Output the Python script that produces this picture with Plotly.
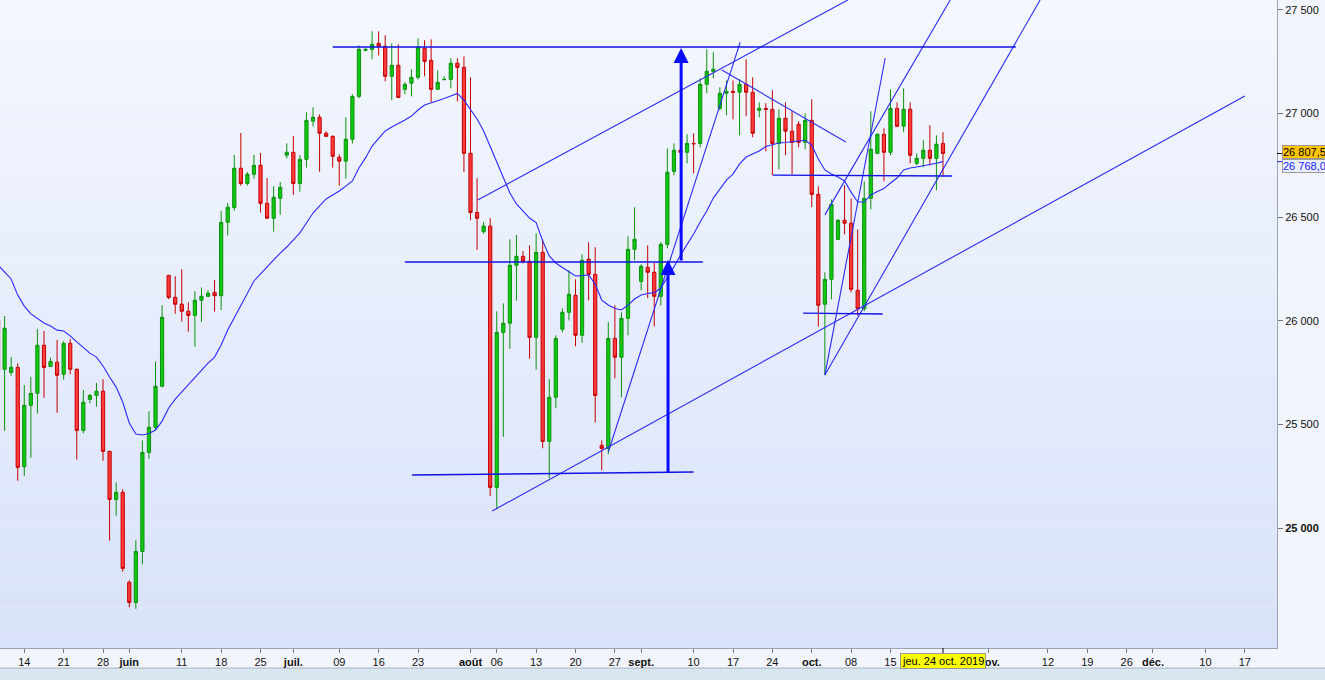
import pandas as pd
import plotly.graph_objects as go

# ---------------- data ----------------
opens = [26004, 25766, 25751, 25775, 25296, 25592, 25650, 25882, 25780, 25800,
         25742, 25891, 25766, 25471, 25621, 25640, 25660, 25370, 25138, 25172,
         24738, 24641, 24887, 25365, 25486, 25684, 26219, 26113, 26080, 26046,
         26026, 26099, 26118, 26137, 26121, 26475, 26546, 26736, 26663, 26707,
         26750, 26567, 26495, 26591, 26799, 26813, 26663, 26779, 26963, 26982,
         26905, 26890, 26789, 26770, 26876, 27083, 27305, 27310, 27339, 27325,
         27180, 27233, 27117, 27146, 27175, 27315, 27257, 27117, 27163, 27165,
         27243, 27223, 26808, 26523, 26430, 26457, 25196, 25944, 25988, 26268,
         26311, 26287, 25920, 26330, 25418, 25631, 25959, 26041, 26123, 25930,
         26297, 26224, 25399, 25384, 25915, 25824, 26012, 26345, 26190, 26258,
         26234, 26118, 26369, 26721, 26823, 26813, 26856, 26856, 27141, 27204,
         27025, 27098, 27107, 27103, 27141, 27103, 27016, 27025, 27020, 26856,
         26977, 26915, 26948, 26861, 26967, 26610, 26080, 26200, 26393, 26485,
         26471, 26147, 26058, 26591, 26808, 26900, 26813, 27025, 26939, 27021,
         26760, 26784, 26823, 26784, 26856]
highs = [26028, 26023, 25825, 25795, 25690, 25729, 25960, 25951, 25822, 25907,
         25902, 25912, 25770, 25666, 25647, 25700, 25718, 25372, 25220, 25187,
         24748, 24940, 25423, 25563, 25804, 26075, 26222, 26215, 26248, 26089,
         26142, 26161, 26147, 26197, 26530, 26568, 26800, 26906, 26718, 26800,
         26810, 26689, 26650, 26670, 26856, 26892, 26800, 27006, 27030, 26996,
         26915, 26895, 26803, 26982, 27093, 27329, 27315, 27397, 27397, 27378,
         27339, 27334, 27151, 27214, 27363, 27354, 27358, 27209, 27180, 27267,
         27267, 27276, 27175, 26688, 26477, 26495, 26046, 26084, 26393, 26414,
         26337, 26364, 26422, 26393, 25718, 25930, 26060, 26244, 26200, 26321,
         26379, 26355, 25423, 25993, 26075, 26041, 26408, 26548, 26273, 26364,
         26279, 26379, 26832, 26856, 26828, 26900, 26905, 27170, 27310, 27296,
         27127, 27160, 27160, 27165, 27262, 27175, 27054, 27050, 27112, 27021,
         27054, 27011, 26963, 27001, 27069, 26649, 26234, 26586, 26490, 26654,
         26591, 26441, 26673, 27011, 26905, 26929, 27117, 27054, 27122, 27054,
         26808, 26871, 26944, 26895, 26910]
lows = [25714, 25469, 25735, 25228, 25251, 25339, 25552, 25629, 25780, 25556,
        25716, 25742, 25330, 25457, 25602, 25585, 25325, 24939, 25059, 24789,
        24617, 24610, 24825, 25334, 25473, 25679, 26104, 26034, 25996, 25947,
        25875, 25994, 26116, 26044, 26052, 26411, 26531, 26652, 26652, 26686,
        26522, 26493, 26430, 26512, 26784, 26608, 26623, 26739, 26937, 26719,
        26889, 26739, 26652, 26686, 26855, 27074, 27300, 27262, 27281, 27156,
        27064, 27074, 27093, 27083, 27165, 27180, 27054, 27115, 27163, 27122,
        27059, 26717, 26485, 26342, 26420, 25154, 25090, 25440, 25865, 26097,
        26277, 25817, 25764, 25385, 25240, 25578, 25944, 26002, 25877, 25894,
        26099, 25510, 25278, 25356, 25722, 25631, 25930, 26292, 26147, 26109,
        25973, 26073, 26350, 26702, 26808, 26760, 26712, 26837, 27098, 27170,
        27016, 26992, 26972, 26895, 26987, 26886, 26982, 26818, 26702, 26731,
        26799, 26707, 26837, 26828, 26548, 25973, 25740, 26104, 26390, 26417,
        26137, 26026, 26046, 26538, 26805, 26673, 26799, 26934, 26910, 26760,
        26750, 26741, 26750, 26630, 26702]
closes = [25762, 25964, 25775, 25293, 25592, 25650, 25882, 25775, 25804, 25737,
          25891, 25766, 25471, 25607, 25640, 25660, 25370, 25138, 25172, 24805,
          24641, 24887, 25365, 25486, 25684, 26017, 26113, 26080, 26046, 26026,
          26099, 26118, 26133, 26121, 26475, 26548, 26736, 26663, 26707, 26750,
          26567, 26495, 26596, 26644, 26813, 26663, 26779, 26967, 26982, 26905,
          26890, 26794, 26770, 26876, 27083, 27310, 27310, 27334, 27325, 27180,
          27233, 27078, 27141, 27175, 27320, 27252, 27117, 27151, 27165, 27243,
          27223, 26808, 26523, 26495, 26457, 25196, 25944, 25988, 26268, 26311,
          26287, 25920, 26330, 25418, 25631, 25915, 26041, 26128, 25930, 26292,
          26224, 25640, 25384, 25915, 25824, 26012, 26345, 26393, 26263, 26234,
          26118, 26369, 26717, 26823, 26813, 26856, 26854, 27141, 27204, 27214,
          27098, 27107, 27103, 27141, 27103, 26905, 27025, 27020, 26856, 26977,
          26915, 26861, 26861, 26967, 26610, 26075, 26200, 26562, 26485, 26471,
          26152, 26058, 26591, 26828, 26900, 26813, 27025, 26939, 27021, 26799,
          26784, 26823, 26784, 26852, 26807.5]
moving_avg = [26269, 26235, 26202, 26124, 26071, 26033, 26013, 25989, 25975, 25955,
              25951, 25927, 25898, 25869, 25844, 25825, 25782, 25729, 25680, 25608,
              25507, 25454, 25449, 25456, 25473, 25516, 25579, 25622, 25656, 25695,
              25729, 25762, 25796, 25825, 25883, 25955, 26013, 26076, 26134, 26192,
              26226, 26260, 26293, 26327, 26356, 26390, 26424, 26472, 26520, 26554,
              26588, 26607, 26626, 26650, 26675, 26737, 26786, 26843, 26877, 26916,
              26935, 26950, 26969, 26988, 27017, 27041, 27051, 27061, 27073, 27085,
              27097, 27065, 27017, 26974, 26916, 26843, 26771, 26699, 26617, 26564,
              26530, 26496, 26474, 26385, 26313, 26279, 26257, 26235, 26216, 26218,
              26221, 26177, 26100, 26076, 26059, 26052, 26076, 26105, 26124, 26132,
              26136, 26158, 26206, 26260, 26317, 26366, 26419, 26477, 26530, 26592,
              26636, 26679, 26708, 26757, 26790, 26805, 26819, 26841, 26851, 26858,
              26860, 26863, 26868, 26871, 26848, 26781, 26728, 26708, 26694, 26675,
              26621, 26573, 26573, 26607, 26624, 26638, 26665, 26689, 26728, 26737,
              26742, 26747, 26753, 26760, 26768]

# drawn trend lines: (start index, start price, end index, end price)
thin_lines = [
    (75.3, 25082, 190.0, 27085),
    (73.1, 26583, 129.5, 27548),
    (93.0, 25367, 113.1, 27345),
    (110.3, 27210, 129.2, 26863),
    (126.0, 25738, 135.2, 27268),
    (126.0, 26511, 145.1, 27548),
    (126.0, 25738, 158.8, 27548),
]
level_lines = [
    (51.0, 27321, 155.1, 27321),
    (62.0, 26284, 107.4, 26284),
    (63.1, 25256, 106.0, 25270),
    (118.1, 26703, 145.4, 26699),
    (122.7, 26037, 134.8, 26033),
]
# target arrows: (index, from price, to price)
arrows = [(102.1, 25260, 26293), (104.1, 26284, 27316)]

y_ticks = [25000, 25500, 26000, 26500, 27000, 27500]
y_tick_text = ["<b>25 000</b>", "25 500", "26 000", "26 500", "27 000", "27 500"]
month_names = {5: "mai", 6: "juin", 7: "juil.", 8: "août", 9: "sept.",
               10: "oct.", 11: "nov.", 12: "déc."}
last_price_text = "26 807,5"
ma_text = "26 768,0"
date_text = "jeu. 24 oct. 2019"

# ---------------- calendar: sessions Sunday..Friday ----------------
cal = [d for d in pd.date_range("2019-05-09", "2019-12-31") if d.weekday() != 5]
idx = list(range(len(closes)))
last = idx[-1]

month_pos = [i for i, d in enumerate(cal) if d.day <= 3 and (i == 0 or cal[i - 1].month != d.month)]
tickvals, ticktext = [], []
for i, d in enumerate(cal):
    if i in month_pos:
        tickvals.append(i)
        ticktext.append("<b>" + month_names[d.month] + "</b>")
    elif d.weekday() == 1 and all(abs(i - m) > 3 for m in month_pos) and abs(i - last) > 5:
        tickvals.append(i)
        ticktext.append("%02d" % d.day)

fig = go.Figure()
fig.add_trace(go.Candlestick(
    x=idx, open=opens, high=highs, low=lows, close=closes,
    increasing=dict(line=dict(color="#0b930b", width=1), fillcolor="#12c712"),
    decreasing=dict(line=dict(color="#c40000", width=1), fillcolor="#ff3b3b"),
    whiskerwidth=0, hoverinfo="skip", showlegend=False))

fig.add_trace(go.Scatter(x=idx, y=moving_avg, mode="lines",
                         line=dict(color="#2a2aff", width=1.1),
                         hoverinfo="skip", showlegend=False))

def seg_xy(segs):
    xs, ys = [], []
    for x0, y0, x1, y1 in segs:
        xs += [x0, x1, None]
        ys += [y0, y1, None]
    return xs, ys

xs, ys = seg_xy(thin_lines)
fig.add_trace(go.Scatter(x=xs, y=ys, mode="lines", line=dict(color="#2b2bf5", width=1.1),
                         hoverinfo="skip", showlegend=False))
xs, ys = seg_xy(level_lines)
fig.add_trace(go.Scatter(x=xs, y=ys, mode="lines", line=dict(color="#1212e6", width=1.4),
                         hoverinfo="skip", showlegend=False))

annotations = []
for xa, p0, p1 in arrows:
    annotations.append(dict(x=xa, y=p1, ax=xa, ay=p0, xref="x", yref="y",
                            axref="x", ayref="y", text="", showarrow=True,
                            arrowhead=2, arrowsize=1.0, arrowwidth=3,
                            arrowcolor="#0a0aff"))

annotations.append(dict(x=1, xref="paper", xanchor="left", xshift=5,
                        y=closes[-1], yref="y", yanchor="middle", yshift=1,
                        text=last_price_text, showarrow=False,
                        font=dict(size=11, color="#000", family="Liberation Sans, Arial"),
                        bgcolor="#ffc400", bordercolor="#9a9a9a", borderwidth=1, borderpad=0))
annotations.append(dict(x=1, xref="paper", xanchor="left", xshift=5,
                        y=moving_avg[-1], yref="y", yanchor="middle", yshift=-4,
                        text=ma_text, showarrow=False,
                        font=dict(size=11, color="#2020ff", family="Liberation Sans, Arial"),
                        bgcolor="#eaf0fd", bordercolor="#9a9a9a", borderwidth=1, borderpad=0))
annotations.append(dict(x=last, xref="x", y=0, yref="paper", yanchor="middle",
                        yshift=-13, text=date_text, showarrow=False,
                        font=dict(size=11, color="#000", family="Liberation Sans Narrow, Arial Narrow, Liberation Sans, Arial"),
                        bgcolor="#ffff00", bordercolor="#9a9a9a", borderwidth=1, borderpad=1))

# background gradient of the plotting area
shapes = []
n = 48
top = (244, 247, 254)
bot = (217, 226, 250)
for k in range(n):
    t = k / (n - 1)
    c = tuple(round(top[j] + (bot[j] - top[j]) * t) for j in range(3))
    shapes.append(dict(type="rect", xref="paper", yref="paper", layer="below",
                       x0=0, x1=1, y0=1 - (k + 1) / n, y1=1 - k / n,
                       fillcolor="rgb(%d,%d,%d)" % c, line=dict(width=0)))
# bottom status band
shapes.append(dict(type="rect", xref="paper", yref="paper", layer="below",
                   x0=-0.01, x1=1.05, y0=-0.031, y1=-0.06,
                   fillcolor="#d7e6ef", line=dict(color="#a9b4c4", width=1)))
# price markers on the axis
shapes.append(dict(type="line", xref="paper", yref="y", x0=1, x1=1.004,
                   y0=closes[-1], y1=closes[-1], line=dict(color="#000", width=1)))
shapes.append(dict(type="line", xref="paper", yref="y", x0=1, x1=1.004,
                   y0=moving_avg[-1], y1=moving_avg[-1], line=dict(color="#2020ff", width=1)))
# marker tick for the current session on the time axis
shapes.append(dict(type="line", xref="x", yref="paper", x0=last, x1=last,
                   y0=0, y1=-0.008, line=dict(color="#000", width=1)))

fig.update_layout(
    width=1325, height=680,
    margin=dict(l=0, r=48, t=0, b=32),
    paper_bgcolor="#f2f5fc", plot_bgcolor="rgba(0,0,0,0)",
    showlegend=False, hovermode=False,
    annotations=annotations, shapes=shapes,
    font=dict(family="Liberation Sans Narrow, Arial Narrow, Liberation Sans, Arial", size=11, color="#111"),
    xaxis=dict(range=[0.3, 194.9], tickmode="array", tickvals=tickvals, ticktext=ticktext,
               showgrid=False, zeroline=False, showline=True, linecolor="#9aa3b3", linewidth=1,
               ticks="outside", ticklen=4, tickcolor="#777", rangeslider=dict(visible=False),
               tickfont=dict(size=11, color="#111")),
    yaxis=dict(range=[24421, 27548], side="right", tickmode="array", tickvals=y_ticks,
               ticktext=y_tick_text, showgrid=False, zeroline=False, showline=True,
               linecolor="#9aa3b3", linewidth=1, ticks="outside", ticklen=5, tickcolor="#777",
               tickfont=dict(size=11, color="#111", family="Liberation Sans, Arial")),
)

fig.write_html("out.html", config={"displayModeBar": False},
               post_script="document.body.style.margin='0px';document.body.style.overflow='hidden';")
